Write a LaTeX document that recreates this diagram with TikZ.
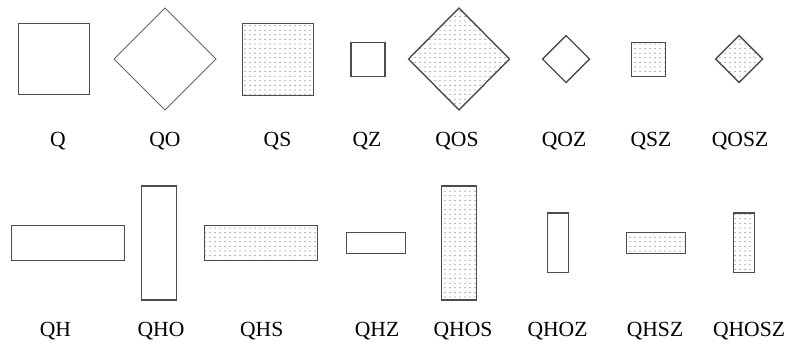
\documentclass[tikz,border=0pt]{standalone}
\usepackage{fontspec}
\setmainfont{Liberation Serif}
\usetikzlibrary{shapes.geometric,patterns}
\pgfdeclarepatternformonly{stipple}{\pgfqpoint{-1pt}{-1pt}}{\pgfqpoint{1pt}{1pt}}{\pgfqpoint{5pt}{4.6pt}}{%
  \pgfpathcircle{\pgfqpoint{0pt}{0pt}}{0.65pt}\pgfusepath{fill}}
\tikzset{
  shp/.style={draw=black!70, line width=1.4pt, inner sep=0pt, outer sep=0pt},
  box/.style={shp, rectangle},
  dia/.style={shp, diamond, aspect=1},
  dots/.style={pattern=stipple, pattern color=black!55},
  lab/.style={font=\fontsize{21.6}{24}\selectfont, anchor=base, inner sep=0pt}
}
\begin{document}
\begin{tikzpicture}[x=1pt,y=-1pt]
\useasboundingbox (0,0) rectangle (786,343);
% top row
\node[box, minimum width=71pt, minimum height=71pt] (Q) at (54,59) {};
\node[dia, minimum width=102pt, minimum height=102pt, line width=0.9pt, draw=black!60] (QO) at (165,59) {};
\node[box, dots, minimum width=71pt, minimum height=72pt] (QS) at (278,59.5) {};
\node[box, minimum width=34pt, minimum height=34pt] (QZ) at (368,59.3) {};
\node[dia, dots, minimum width=101pt, minimum height=102pt] (QOS) at (459,59) {};
\node[dia, minimum width=47pt, minimum height=47pt] (QOZ) at (566,59) {};
\node[box, dots, minimum width=34pt, minimum height=34pt] (QSZ) at (648.5,59.3) {};
\node[dia, dots, minimum width=47pt, minimum height=47pt] (QOSZ) at (739,59) {};
% bottom row
\node[box, minimum width=113pt, minimum height=35pt] (QH) at (68,242.8) {};
\node[box, minimum width=35pt, minimum height=114pt] (QHO) at (159,242.8) {};
\node[box, dots, minimum width=113pt, minimum height=35pt] (QHS) at (261,242.8) {};
\node[box, minimum width=59pt, minimum height=20.7pt] (QHZ) at (375.7,243) {};
\node[box, dots, minimum width=35pt, minimum height=114pt] (QHOS) at (458.7,242.8) {};
\node[box, minimum width=21pt, minimum height=59.7pt] (QHOZ) at (558,242.8) {};
\node[box, dots, minimum width=59pt, minimum height=20.7pt] (QHSZ) at (655.8,243) {};
\node[box, dots, minimum width=21pt, minimum height=59.7pt] (QHOSZ) at (744,242.8) {};
% labels
\node[lab] (lQ) at (58,146.5) {Q};
\node[lab] (lQO) at (165,146.5) {QO};
\node[lab] (lQS) at (277.5,146.5) {QS};
\node[lab] (lQZ) at (367,146.5) {QZ};
\node[lab] (lQOS) at (457,146.5) {QOS};
\node[lab] (lQOZ) at (564,146.5) {QOZ};
\node[lab] (lQSZ) at (651,146.5) {QSZ};
\node[lab] (lQOSZ) at (740,146.5) {QOSZ};
\node[lab] (lQH) at (55.5,336) {QH};
\node[lab] (lQHO) at (161,336) {QHO};
\node[lab] (lQHS) at (261.7,336) {QHS};
\node[lab] (lQHZ) at (377,336) {QHZ};
\node[lab] (lQHOS) at (463,336) {QHOS};
\node[lab] (lQHOZ) at (557.5,336) {QHOZ};
\node[lab] (lQHSZ) at (655,336) {QHSZ};
\node[lab] (lQHOSZ) at (749,336) {QHOSZ};
\end{tikzpicture}
\end{document}
